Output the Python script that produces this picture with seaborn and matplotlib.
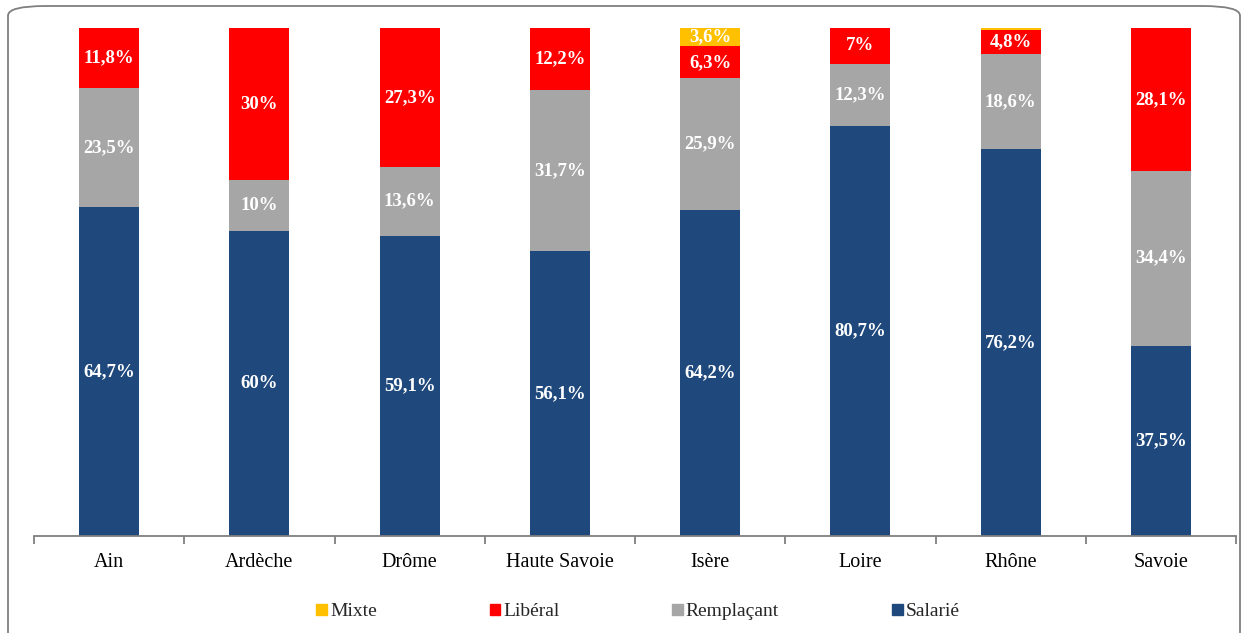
import numpy as np
import pandas as pd
import seaborn as sns
from matplotlib import pyplot as plt
from matplotlib.patches import FancyBboxPatch, Patch

categories = ['Ain', 'Ardèche', 'Drôme', 'Haute Savoie', 'Isère', 'Loire', 'Rhône', 'Savoie']
salarie = [64.7, 60, 59.1, 56.1, 64.2, 80.7, 76.2, 37.5]
remplacant = [23.5, 10, 13.6, 31.7, 25.9, 12.3, 18.6, 34.4]
liberal = [11.8, 30, 27.3, 12.2, 6.3, 7, 4.8, 28.1]
mixte = [0, 0, 0, 0, 3.6, 0, 0.4, 0]

series = [('Salarié', salarie, '#1f497d'),
          ('Remplaçant', remplacant, '#a6a6a6'),
          ('Libéral', liberal, '#ff0000'),
          ('Mixte', mixte, '#ffc000')]

sns.set_theme(style='white')
plt.rcParams['font.family'] = ['Liberation Serif', 'DejaVu Serif']

fig = plt.figure(figsize=(12.46, 6.33), dpi=100)
ax = fig.add_axes([34 / 1246, 1 - 536 / 633, 1202 / 1246, 508 / 633])

# rounded frame around the chart
frame = FancyBboxPatch((8 / 1246, -0.05), 1232 / 1246, 1 - 6 / 633 + 0.05,
                       boxstyle='round,pad=0,rounding_size=0.03',
                       transform=fig.transFigure, fill=False,
                       edgecolor='#7f7f7f', linewidth=1.3, mutation_aspect=633 / 1246)
fig.add_artist(frame)

df = pd.DataFrame({'cat': categories})
bottom = np.zeros(len(categories))
for name, vals, col in series:
    vals = np.array(vals)
    df[name] = vals
    sns.barplot(x=df['cat'], y=df[name], color=col, width=0.4, bottom=bottom,
                ax=ax, saturation=1, linewidth=0)
    for i, v in enumerate(vals):
        if v >= 1:
            txt = f'{v:g}%'.replace('.', ',')
            ax.text(i, bottom[i] + v / 2, txt, ha='center', va='center',
                    color='white', fontweight='bold', fontsize=13.5)
    bottom += vals

ax.set_ylim(0, 100)
ax.set_xlim(-0.5, len(categories) - 0.5)
ax.set_xlabel('')
ax.set_ylabel('')
ax.set_yticks([])
for s in ['top', 'right', 'left']:
    ax.spines[s].set_visible(False)
ax.spines['bottom'].set_color('#7f7f7f')
ax.spines['bottom'].set_linewidth(1.3)
ax.set_xticks(range(len(categories)))
ax.set_xticklabels(categories, fontsize=14.5, color='black')
ax.set_xticks(np.arange(-0.5, len(categories)), minor=True)
ax.tick_params(axis='x', which='major', length=0, pad=12)
ax.tick_params(axis='x', which='minor', length=6, color='#7f7f7f', width=1.3,
               bottom=True, direction='out')

handles = [Patch(color=c, label=n) for n, _, c in reversed(series)]
fig.legend(handles=handles, loc='center', bbox_to_anchor=(638 / 1246, 1 - 612 / 633),
           ncol=4, frameon=False, fontsize=14, handlelength=0.55, handleheight=0.55,
           handletextpad=0.15, columnspacing=5.8)

fig.savefig('out.png', dpi=100)
